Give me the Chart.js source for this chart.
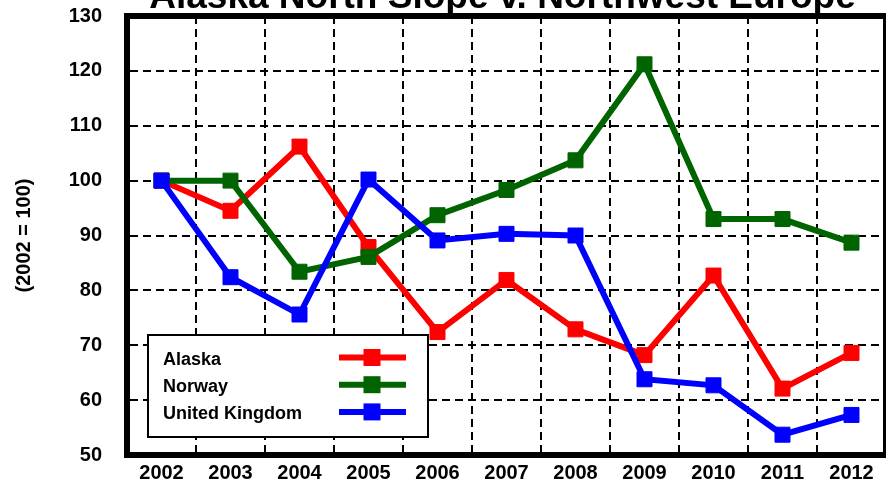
<!DOCTYPE html>
<html>
<head>
<meta charset="utf-8">
<script src="https://cdn.jsdelivr.net/npm/chart.js@4.4.1/dist/chart.umd.min.js"></script>
<style>
  html, body { margin: 0; padding: 0; background: #fff; overflow: hidden; }
  #wrap { width: 886px; height: 484px; position: relative; }
</style>
</head>
<body>
<div id="wrap"><canvas id="c" width="886" height="484"></canvas></div>
<script>
// Price index by year, 2002 = 100
const years = ['2002', '2003', '2004', '2005', '2006', '2007', '2008', '2009', '2010', '2011', '2012'];
const alaska = [100, 94.5, 106.2, 87.9, 72.4, 81.9, 72.9, 68.2, 82.7, 62.1, 68.6];
const norway = [100, 100, 83.4, 86.1, 93.7, 98.3, 103.7, 121.2, 93.0, 93.0, 88.7];
const unitedKingdom = [100, 82.4, 75.6, 100.2, 89.1, 90.3, 90.0, 63.8, 62.7, 53.7, 57.3];
const seriesNames = ['Alaska', 'Norway', 'United Kingdom'];
const seriesColors = ['#ff0000', '#006400', '#0000ff'];
const yMin = 50, yMax = 130, yStep = 10;

const chartTitle = 'Alaska North Slope v. Northwest Europe';
const yTitle = '(2002 = 100)';
const FONT = '"Liberation Sans", Arial, Helvetica, sans-serif';

Chart.defaults.color = '#000';
Chart.defaults.font.family = FONT;

function lineSet(label, data, color, order) {
  return {
    label, data, order,
    borderColor: color,
    backgroundColor: color,
    borderWidth: 6,
    pointStyle: 'rect',
    pointRadius: 10.6,
    pointBorderWidth: 1,
    pointBorderColor: color,
    pointBackgroundColor: color,
    tension: 0,
    fill: false
  };
}

// Frame, boxed legend and the title line
const decorations = {
  id: 'decorations',
  beforeDatasetsDraw(chart) {
    const { ctx, chartArea: a } = chart;
    ctx.save();
    ctx.strokeStyle = '#000';
    ctx.lineWidth = 6;
    ctx.strokeRect(a.left, a.top, a.right - a.left, a.bottom - a.top);
    ctx.restore();
  },
  afterDatasetsDraw(chart) {
    const ctx = chart.ctx;
    const box = { x: 148, y: 335, w: 280, h: 102 };
    ctx.save();
    ctx.fillStyle = '#fff';
    ctx.fillRect(box.x, box.y, box.w, box.h);
    ctx.strokeStyle = '#000';
    ctx.lineWidth = 2;
    ctx.strokeRect(box.x, box.y, box.w, box.h);
    ctx.font = 'bold 18px ' + FONT;
    ctx.textBaseline = 'alphabetic';
    ctx.textAlign = 'left';
    seriesNames.forEach((name, i) => {
      const ds = chart.data.datasets.find(d => d.label === name);
      const cy = 357.5 + i * 27.2;
      ctx.fillStyle = '#000';
      ctx.fillText(name, 163, cy + 7.5);
      ctx.strokeStyle = ds.borderColor;
      ctx.lineWidth = 6;
      ctx.beginPath();
      ctx.moveTo(339, cy);
      ctx.lineTo(406, cy);
      ctx.stroke();
      ctx.fillStyle = ds.borderColor;
      ctx.fillRect(372 - 8.5, cy - 8.5, 17, 17);
    });
    ctx.restore();
  },
  afterDraw(chart) {
    const ctx = chart.ctx;
    ctx.save();
    ctx.font = 'bold 37px ' + FONT;
    ctx.fillStyle = '#000';
    ctx.textAlign = 'center';
    ctx.textBaseline = 'alphabetic';
    ctx.fillText(chartTitle, 502.5, 8);
    ctx.restore();
  }
};

new Chart(document.getElementById('c'), {
  type: 'line',
  data: {
    labels: years,
    datasets: [
      lineSet(seriesNames[0], alaska, seriesColors[0], 3),
      lineSet(seriesNames[1], norway, seriesColors[1], 2),
      lineSet(seriesNames[2], unitedKingdom, seriesColors[2], 1)
    ]
  },
  options: {
    responsive: false,
    animation: false,
    devicePixelRatio: 1,
    layout: { autoPadding: false, padding: { top: 16, right: 0, left: 0, bottom: 0 } },
    plugins: {
      legend: { display: false },
      tooltip: { enabled: false },
      title: { display: false }
    },
    scales: {
      x: {
        type: 'category',
        offset: true,
        grid: { offset: true, color: '#000', lineWidth: 2, drawTicks: false },
        border: { display: true, color: '#000', width: 6, dash: [8, 5] },
        ticks: { font: { size: 20, weight: 'bold' }, padding: 6, maxRotation: 0, autoSkip: false },
        afterFit(scale) { scale.height = 29; }
      },
      y: {
        min: yMin, max: yMax,
        grid: { color: '#000', lineWidth: 2, drawTicks: true, tickLength: 25, tickColor: 'rgba(0,0,0,0)' },
        border: { display: true, color: '#000', width: 6, dash: [8, 5] },
        ticks: { stepSize: yStep, font: { size: 20, weight: 'bold' }, padding: 0 },
        title: { display: true, text: yTitle, font: { size: 20, weight: 'bold' }, padding: { top: 12 } },
        afterFit(scale) { scale.width = 127; }
      }
    }
  },
  plugins: [decorations]
});
</script>
</body>
</html>
